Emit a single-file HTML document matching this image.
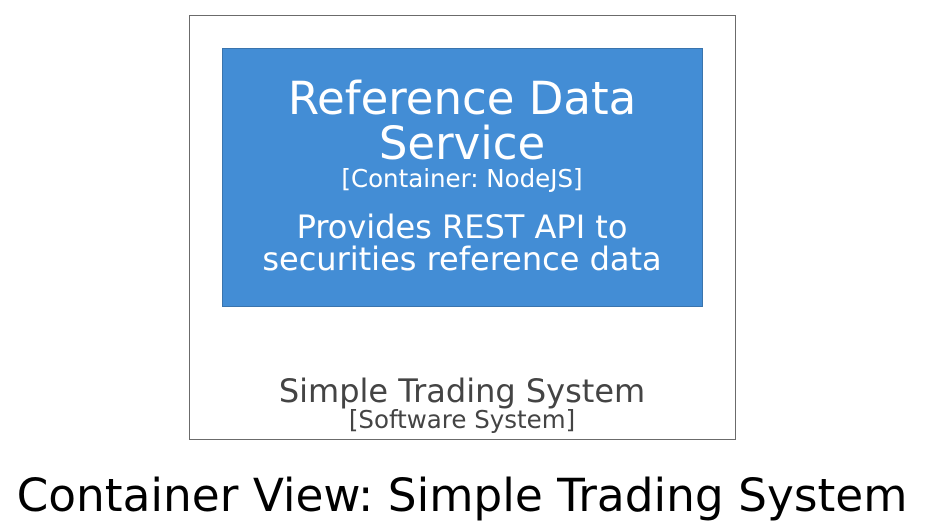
<!DOCTYPE html>
<html><head><meta charset="utf-8"><style>
html,body{margin:0;padding:0;background:#fff;}
svg{display:block;}
text{font-family:"DejaVu Sans","Liberation Sans",sans-serif;}
</style></head><body>
<svg width="925" height="531" viewBox="0 0 925 531" xmlns="http://www.w3.org/2000/svg">
<rect x="189.5" y="15.5" width="546" height="424" fill="#fff" stroke="#6b6b6b" stroke-width="1"/>
<rect x="222.5" y="48.5" width="480" height="258" fill="#438dd5" stroke="#3a74ad" stroke-width="1"/>
<text x="462" y="114" font-size="45" fill="#fff" text-anchor="middle">Reference Data</text>
<text x="462" y="159" font-size="45" fill="#fff" text-anchor="middle">Service</text>
<text x="462" y="187" font-size="24.5" fill="#fff" text-anchor="middle">[Container: NodeJS]</text>
<text x="462" y="238" font-size="32" fill="#fff" text-anchor="middle">Provides REST API to</text>
<text x="462" y="270" font-size="32" fill="#fff" text-anchor="middle">securities reference data</text>
<text x="462" y="402" font-size="32" fill="#444" text-anchor="middle">Simple Trading System</text>
<text x="462" y="428" font-size="24.5" fill="#444" text-anchor="middle">[Software System]</text>
<text x="462" y="511" font-size="45.4" fill="#000" text-anchor="middle">Container View: Simple Trading System</text>
</svg>
</body></html>
